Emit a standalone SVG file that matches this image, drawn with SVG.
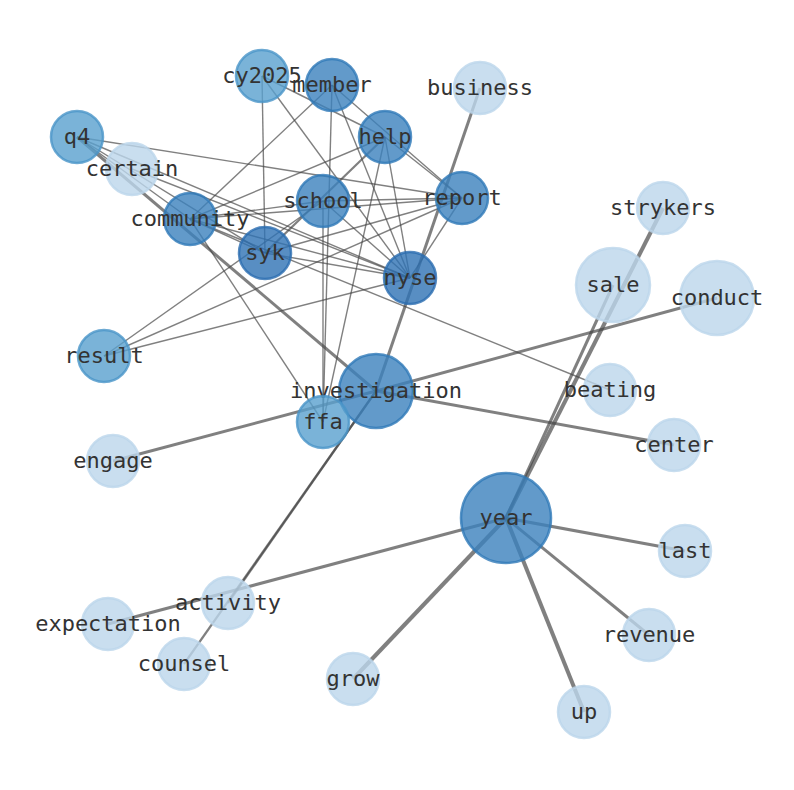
<svg xmlns="http://www.w3.org/2000/svg" width="794" height="790" viewBox="0 0 794 790">
<style>
.e{stroke:#444;stroke-opacity:0.68;fill:none;stroke-linecap:butt}
.t1{stroke-width:1.4}
.t2{stroke-width:2.2}
.t3{stroke-width:3}
.t4{stroke-width:4}
circle{stroke-width:2.5;fill-opacity:0.8;stroke-opacity:0.8}
.L{fill:#bcd6eb;stroke:#bcd6eb}
.M{fill:#59a0ce;stroke:#4a95c8}
.D{fill:#3b81bd;stroke:#2f79b8}
.S{fill:#2e72b4;stroke:#2a6db0}
text{font-family:"DejaVu Sans Mono","Liberation Mono",monospace;font-size:22px;fill:#333;text-anchor:middle;dominant-baseline:central}
</style>
<rect width="794" height="790" fill="#fff"/>
<g id="edges">
<line class="e t1" x1="262" y1="76" x2="265" y2="253"/>
<line class="e t1" x1="262" y1="76" x2="385" y2="137"/>
<line class="e t1" x1="262" y1="76" x2="410" y2="278"/>
<line class="e t1" x1="332" y1="85" x2="190" y2="219"/>
<line class="e t1" x1="332" y1="85" x2="323" y2="422"/>
<line class="e t1" x1="332" y1="85" x2="410" y2="278"/>
<line class="e t1" x1="332" y1="85" x2="462" y2="198"/>
<line class="e t1" x1="385" y1="137" x2="190" y2="219"/>
<line class="e t2" x1="385" y1="137" x2="265" y2="253"/>
<line class="e t1" x1="385" y1="137" x2="323" y2="422"/>
<line class="e t1" x1="385" y1="137" x2="410" y2="278"/>
<line class="e t1" x1="385" y1="137" x2="462" y2="198"/>
<line class="e t1" x1="323" y1="201" x2="462" y2="198"/>
<line class="e t1" x1="323" y1="201" x2="190" y2="219"/>
<line class="e t1" x1="323" y1="201" x2="323" y2="422"/>
<line class="e t1" x1="323" y1="201" x2="410" y2="278"/>
<line class="e t1" x1="190" y1="219" x2="462" y2="198"/>
<line class="e t1" x1="190" y1="219" x2="410" y2="278"/>
<line class="e t1" x1="190" y1="219" x2="323" y2="422"/>
<line class="e t1" x1="190" y1="219" x2="265" y2="253"/>
<line class="e t1" x1="190" y1="219" x2="610" y2="390"/>
<line class="e t1" x1="265" y1="253" x2="410" y2="278"/>
<line class="e t1" x1="265" y1="253" x2="462" y2="198"/>
<line class="e t1" x1="77" y1="137" x2="462" y2="198"/>
<line class="e t1" x1="77" y1="137" x2="410" y2="278"/>
<line class="e t1" x1="77" y1="137" x2="265" y2="253"/>
<line class="e t1" x1="77" y1="137" x2="190" y2="219"/>
<line class="e t1" x1="132" y1="169" x2="410" y2="278"/>
<line class="e t1" x1="104" y1="356" x2="323" y2="201"/>
<line class="e t1" x1="104" y1="356" x2="462" y2="198"/>
<line class="e t1" x1="104" y1="356" x2="410" y2="278"/>
<line class="e t1" x1="462" y1="198" x2="410" y2="278"/>
<line class="e t3" x1="77" y1="137" x2="376" y2="391"/>
<line class="e t3" x1="480" y1="88" x2="376" y2="391"/>
<line class="e t3" x1="113" y1="461" x2="376" y2="391"/>
<line class="e t3" x1="717" y1="298" x2="376" y2="391"/>
<line class="e t3" x1="674" y1="445" x2="376" y2="391"/>
<line class="e t2" x1="376" y1="391" x2="228" y2="603"/>
<line class="e t2" x1="376" y1="391" x2="184" y2="664"/>
<line class="e t4" x1="506" y1="518" x2="663" y2="208"/>
<line class="e t3" x1="506" y1="518" x2="613" y2="285"/>
<line class="e t3" x1="506" y1="518" x2="685" y2="551"/>
<line class="e t3" x1="506" y1="518" x2="649" y2="635"/>
<line class="e t4" x1="506" y1="518" x2="584" y2="712"/>
<line class="e t4" x1="506" y1="518" x2="353" y2="679"/>
<line class="e t3" x1="506" y1="518" x2="108" y2="624"/>
</g>
<g id="n-cy2025"><circle class="M" cx="262" cy="76" r="26"/><text x="262" y="75">cy2025</text></g>
<g id="n-member"><circle class="D" cx="332" cy="85" r="26"/><text x="332" y="84">member</text></g>
<g id="n-business"><circle class="L" cx="480" cy="88" r="26"/><text x="480" y="87">business</text></g>
<g id="n-help"><circle class="D" cx="385" cy="137" r="26"/><text x="385" y="136">help</text></g>
<g id="n-q4"><circle class="M" cx="77" cy="137" r="26"/><text x="77" y="136">q4</text></g>
<g id="n-certain"><circle class="L" cx="132" cy="169" r="26"/><text x="132" y="168">certain</text></g>
<g id="n-report"><circle class="D" cx="462" cy="198" r="26"/><text x="462" y="197">report</text></g>
<g id="n-school"><circle class="D" cx="323" cy="201" r="26"/><text x="323" y="200">school</text></g>
<g id="n-community"><circle class="D" cx="190" cy="219" r="26"/><text x="190" y="218">community</text></g>
<g id="n-syk"><circle class="S" cx="265" cy="253" r="26"/><text x="265" y="252">syk</text></g>
<g id="n-strykers"><circle class="L" cx="663" cy="208" r="26"/><text x="663" y="207">strykers</text></g>
<g id="n-nyse"><circle class="S" cx="410" cy="278" r="26"/><text x="410" y="277">nyse</text></g>
<g id="n-sale"><circle class="L" cx="613" cy="285" r="37"/><text x="613" y="284">sale</text></g>
<g id="n-conduct"><circle class="L" cx="717" cy="298" r="37"/><text x="717" y="297">conduct</text></g>
<g id="n-result"><circle class="M" cx="104" cy="356" r="26"/><text x="104" y="355">result</text></g>
<g id="n-investigation"><circle class="D" cx="376" cy="391" r="37"/><text x="376" y="390">investigation</text></g>
<g id="n-beating"><circle class="L" cx="610" cy="390" r="26"/><text x="610" y="389">beating</text></g>
<g id="n-ffa"><circle class="M" cx="323" cy="422" r="26"/><text x="323" y="421">ffa</text></g>
<g id="n-engage"><circle class="L" cx="113" cy="461" r="26"/><text x="113" y="460">engage</text></g>
<g id="n-center"><circle class="L" cx="674" cy="445" r="26"/><text x="674" y="444">center</text></g>
<g id="n-year"><circle class="D" cx="506" cy="518" r="45"/><text x="506" y="517">year</text></g>
<g id="n-last"><circle class="L" cx="685" cy="551" r="26"/><text x="685" y="550">last</text></g>
<g id="n-activity"><circle class="L" cx="228" cy="603" r="26"/><text x="228" y="602">activity</text></g>
<g id="n-expectation"><circle class="L" cx="108" cy="624" r="26"/><text x="108" y="623">expectation</text></g>
<g id="n-revenue"><circle class="L" cx="649" cy="635" r="26"/><text x="649" y="634">revenue</text></g>
<g id="n-counsel"><circle class="L" cx="184" cy="664" r="26"/><text x="184" y="663">counsel</text></g>
<g id="n-grow"><circle class="L" cx="353" cy="679" r="26"/><text x="353" y="678">grow</text></g>
<g id="n-up"><circle class="L" cx="584" cy="712" r="26"/><text x="584" y="711">up</text></g>
</svg>
